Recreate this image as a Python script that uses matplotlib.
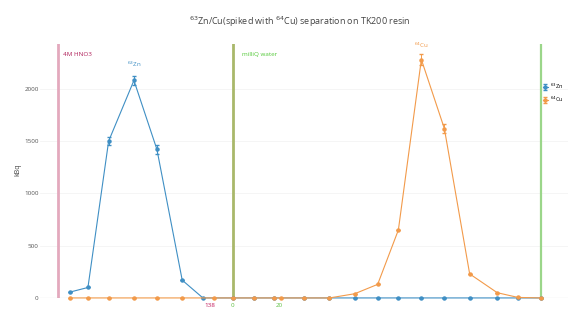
import matplotlib
matplotlib.use("Agg")
import matplotlib.pyplot as plt

plt.rcParams['font.family'] = ['Open Sans', 'DejaVu Sans']

# elution profile (x in mL-ish fraction position)
x_zn = [5, 13, 22, 33, 43, 54, 63, 76, 85, 94, 107, 118, 129, 139, 148, 158, 168, 179, 191, 200, 210]
zn = [55, 100, 1500, 2080, 1420, 170, 0, 0, 0, 0, 0, 0, 0, 0, 0, 0, 0, 0, 0, 0, 0]
zn_err = [0, 0, 40, 40, 40, 0, 0, 0, 0, 0, 0, 0, 0, 0, 0, 0, 0, 0, 0, 0, 0]

x_cu = [5, 13, 22, 33, 43, 54, 68, 76, 85, 94, 97, 107, 118, 129, 139, 148, 158, 168, 179, 191, 200, 210]
cu = [0, 0, 0, 0, 0, 0, 0, 0, 0, 0, 0, 0, 0, 40, 130, 650, 2280, 1620, 230, 50, 5, 0]
cu_err = [0, 0, 0, 0, 0, 0, 0, 0, 0, 0, 0, 0, 0, 0, 0, 0, 50, 40, 0, 0, 0, 0]

series_names = ['$^{63}$Zn', '$^{64}$Cu']
switch_pos = [0, 76, 210]
tick_pos = [66, 76, 96]
tick_text = ['138', '0', '20']
tick_colors = ['#c2185b', '#5cc040', '#5cc040']

fig = plt.figure(figsize=(5.73, 3.11), dpi=100)
ax = fig.add_axes([0.07, 0.042, 0.921, 0.817])

blue = '#3f8fc4'
orange = '#f29a4a'

# solution change lines
ax.axvline(switch_pos[0], color='#e3a9bd', lw=2, zorder=1)
ax.axvline(switch_pos[1], color='#a9b86a', lw=2, zorder=1)
ax.axvline(switch_pos[2], color='#9bd68a', lw=1.6, zorder=1)

for yv in [500, 1000, 1500, 2000]:
    ax.axhline(yv, color='#f4f4f4', lw=0.6, zorder=0)
ax.axhline(0, color='#bbbbbb', lw=0.8, zorder=1)

ax.errorbar(x_zn, zn, yerr=zn_err, color=blue, lw=0.8, marker='o', ms=2.2,
            elinewidth=0.7, capsize=1.2, label=series_names[0], zorder=3, clip_on=False)
ax.errorbar(x_cu, cu, yerr=cu_err, color=orange, lw=0.8, marker='o', ms=2.2,
            elinewidth=0.7, capsize=1.2, label=series_names[1], zorder=4, clip_on=False)

ax.text(33, 2080 + 110, '$^{63}$Zn', color=blue, fontsize=4.5, ha='center', va='bottom')
ax.text(158, 2280 + 90, '$^{64}$Cu', color=orange, fontsize=4.5, ha='center', va='bottom')

ax.text(2, 2330, '4M HNO3', color='#b0205a', fontsize=4.5, va='center')
ax.text(80, 2330, 'milliQ water', color='#55c93a', fontsize=4.5, va='center')

ax.set_xlim(-7.8, 221.7)
ax.set_ylim(0, 2430)
ax.set_yticks([0, 500, 1000, 1500, 2000])
ax.set_yticklabels(['0', '500', '1000', '1500', '2000'], fontsize=4.5, color='#555555')
ax.set_xticks(tick_pos)
ax.set_xticklabels(tick_text, fontsize=4.5)
for lab, c in zip(ax.get_xticklabels(), tick_colors):
    lab.set_color(c)
ax.tick_params(length=0, pad=4)
ax.tick_params(axis='y', pad=1)
for s in ax.spines.values():
    s.set_visible(False)
ax.set_ylabel('kBq', fontsize=5, color='#444444')
ax.yaxis.set_label_coords(-0.036, 0.504)

fig.text(0.523, 0.93, r'$^{63}$Zn/Cu(spiked with $^{64}$Cu) separation on TK200 resin',
         ha='center', va='center', fontsize=6.5, color='#444444')

fig.legend(loc='upper left', bbox_to_anchor=(0.945, 0.74), frameon=False,
           fontsize=4, handlelength=1.0, handletextpad=0.3, labelspacing=0.6,
           borderpad=0.2, borderaxespad=0)

fig.savefig('out.png', dpi=100, facecolor='white')
